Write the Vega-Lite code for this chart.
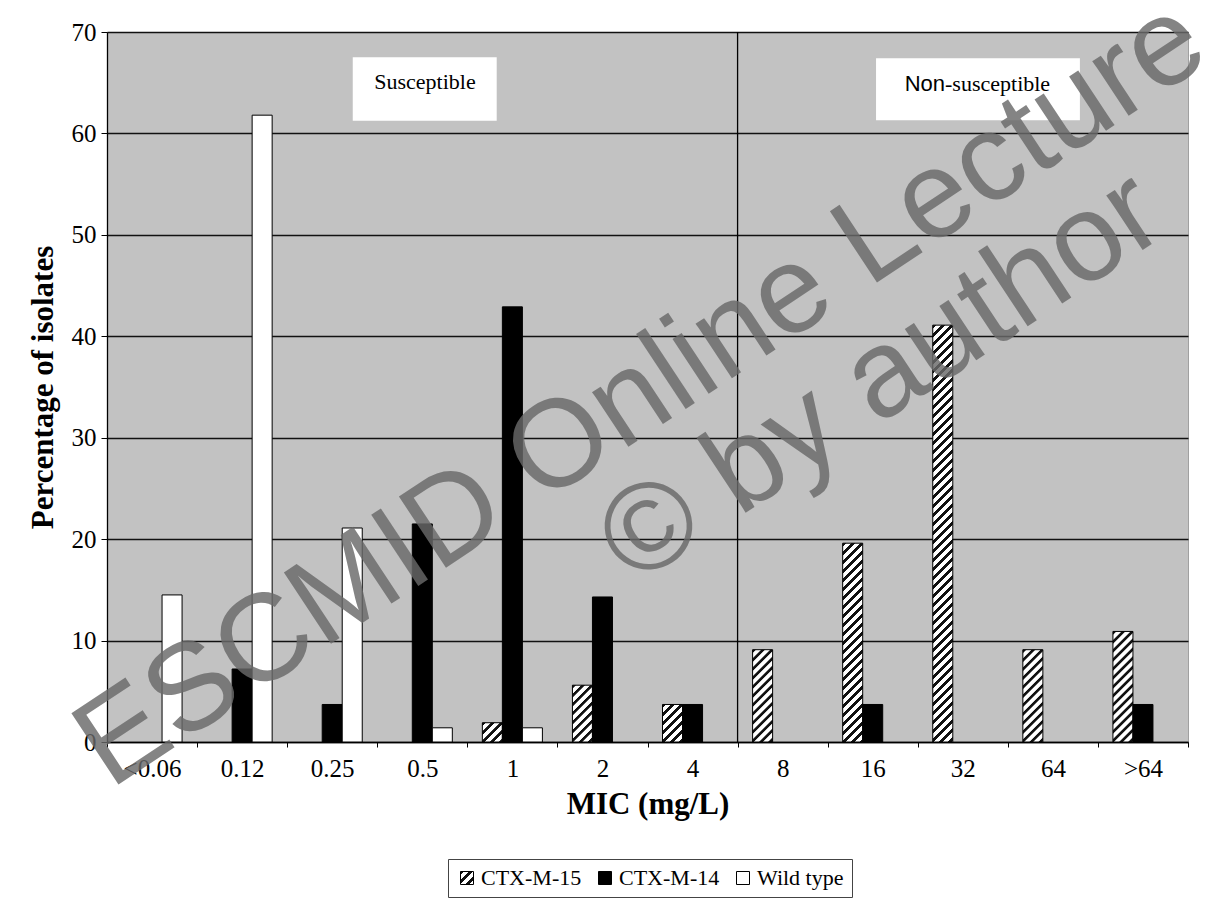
{
  "$schema": "https://vega.github.io/schema/vega-lite/v6.json",
  "width": 1081,
  "height": 710,
  "autosize": "none",
  "padding": {"left": 107, "top": 32, "right": 27, "bottom": 175},
  "background": "white",
  "params": [
    {"name": "hatch", "value": [
      {"offset":0,"color":"#111"},{"offset":0.007,"color":"#111"},{"offset":0.0085,"color":"#fff"},{"offset":0.0185,"color":"#fff"},
      {"offset":0.02,"color":"#111"},{"offset":0.027,"color":"#111"},{"offset":0.0285,"color":"#fff"},{"offset":0.0385,"color":"#fff"},
      {"offset":0.04,"color":"#111"},{"offset":0.047,"color":"#111"},{"offset":0.0485,"color":"#fff"},{"offset":0.0585,"color":"#fff"},
      {"offset":0.06,"color":"#111"},{"offset":0.067,"color":"#111"},{"offset":0.0685,"color":"#fff"},{"offset":0.0785,"color":"#fff"},
      {"offset":0.08,"color":"#111"},{"offset":0.087,"color":"#111"},{"offset":0.0885,"color":"#fff"},{"offset":0.0985,"color":"#fff"},
      {"offset":0.1,"color":"#111"},{"offset":0.107,"color":"#111"},{"offset":0.1085,"color":"#fff"},{"offset":0.1185,"color":"#fff"},
      {"offset":0.12,"color":"#111"},{"offset":0.127,"color":"#111"},{"offset":0.1285,"color":"#fff"},{"offset":0.1385,"color":"#fff"},
      {"offset":0.14,"color":"#111"},{"offset":0.147,"color":"#111"},{"offset":0.1485,"color":"#fff"},{"offset":0.1585,"color":"#fff"},
      {"offset":0.16,"color":"#111"},{"offset":0.167,"color":"#111"},{"offset":0.1685,"color":"#fff"},{"offset":0.1785,"color":"#fff"},
      {"offset":0.18,"color":"#111"},{"offset":0.187,"color":"#111"},{"offset":0.1885,"color":"#fff"},{"offset":0.1985,"color":"#fff"},
      {"offset":0.2,"color":"#111"},{"offset":0.207,"color":"#111"},{"offset":0.2085,"color":"#fff"},{"offset":0.2185,"color":"#fff"},
      {"offset":0.22,"color":"#111"},{"offset":0.227,"color":"#111"},{"offset":0.2285,"color":"#fff"},{"offset":0.2385,"color":"#fff"},
      {"offset":0.24,"color":"#111"},{"offset":0.247,"color":"#111"},{"offset":0.2485,"color":"#fff"},{"offset":0.2585,"color":"#fff"},
      {"offset":0.26,"color":"#111"},{"offset":0.267,"color":"#111"},{"offset":0.2685,"color":"#fff"},{"offset":0.2785,"color":"#fff"},
      {"offset":0.28,"color":"#111"},{"offset":0.287,"color":"#111"},{"offset":0.2885,"color":"#fff"},{"offset":0.2985,"color":"#fff"},
      {"offset":0.3,"color":"#111"},{"offset":0.307,"color":"#111"},{"offset":0.3085,"color":"#fff"},{"offset":0.3185,"color":"#fff"},
      {"offset":0.32,"color":"#111"},{"offset":0.327,"color":"#111"},{"offset":0.3285,"color":"#fff"},{"offset":0.3385,"color":"#fff"},
      {"offset":0.34,"color":"#111"},{"offset":0.347,"color":"#111"},{"offset":0.3485,"color":"#fff"},{"offset":0.3585,"color":"#fff"},
      {"offset":0.36,"color":"#111"},{"offset":0.367,"color":"#111"},{"offset":0.3685,"color":"#fff"},{"offset":0.3785,"color":"#fff"},
      {"offset":0.38,"color":"#111"},{"offset":0.387,"color":"#111"},{"offset":0.3885,"color":"#fff"},{"offset":0.3985,"color":"#fff"},
      {"offset":0.4,"color":"#111"},{"offset":0.407,"color":"#111"},{"offset":0.4085,"color":"#fff"},{"offset":0.4185,"color":"#fff"},
      {"offset":0.42,"color":"#111"},{"offset":0.427,"color":"#111"},{"offset":0.4285,"color":"#fff"},{"offset":0.4385,"color":"#fff"},
      {"offset":0.44,"color":"#111"},{"offset":0.447,"color":"#111"},{"offset":0.4485,"color":"#fff"},{"offset":0.4585,"color":"#fff"},
      {"offset":0.46,"color":"#111"},{"offset":0.467,"color":"#111"},{"offset":0.4685,"color":"#fff"},{"offset":0.4785,"color":"#fff"},
      {"offset":0.48,"color":"#111"},{"offset":0.487,"color":"#111"},{"offset":0.4885,"color":"#fff"},{"offset":0.4985,"color":"#fff"},
      {"offset":0.5,"color":"#111"},{"offset":0.507,"color":"#111"},{"offset":0.5085,"color":"#fff"},{"offset":0.5185,"color":"#fff"},
      {"offset":0.52,"color":"#111"},{"offset":0.527,"color":"#111"},{"offset":0.5285,"color":"#fff"},{"offset":0.5385,"color":"#fff"},
      {"offset":0.54,"color":"#111"},{"offset":0.547,"color":"#111"},{"offset":0.5485,"color":"#fff"},{"offset":0.5585,"color":"#fff"},
      {"offset":0.56,"color":"#111"},{"offset":0.567,"color":"#111"},{"offset":0.5685,"color":"#fff"},{"offset":0.5785,"color":"#fff"},
      {"offset":0.58,"color":"#111"},{"offset":0.587,"color":"#111"},{"offset":0.5885,"color":"#fff"},{"offset":0.5985,"color":"#fff"},
      {"offset":0.6,"color":"#111"},{"offset":0.607,"color":"#111"},{"offset":0.6085,"color":"#fff"},{"offset":0.6185,"color":"#fff"},
      {"offset":0.62,"color":"#111"},{"offset":0.627,"color":"#111"},{"offset":0.6285,"color":"#fff"},{"offset":0.6385,"color":"#fff"},
      {"offset":0.64,"color":"#111"},{"offset":0.647,"color":"#111"},{"offset":0.6485,"color":"#fff"},{"offset":0.6585,"color":"#fff"},
      {"offset":0.66,"color":"#111"},{"offset":0.667,"color":"#111"},{"offset":0.6685,"color":"#fff"},{"offset":0.6785,"color":"#fff"},
      {"offset":0.68,"color":"#111"},{"offset":0.687,"color":"#111"},{"offset":0.6885,"color":"#fff"},{"offset":0.6985,"color":"#fff"},
      {"offset":0.7,"color":"#111"},{"offset":0.707,"color":"#111"},{"offset":0.7085,"color":"#fff"},{"offset":0.7185,"color":"#fff"},
      {"offset":0.72,"color":"#111"},{"offset":0.727,"color":"#111"},{"offset":0.7285,"color":"#fff"},{"offset":0.7385,"color":"#fff"},
      {"offset":0.74,"color":"#111"},{"offset":0.747,"color":"#111"},{"offset":0.7485,"color":"#fff"},{"offset":0.7585,"color":"#fff"},
      {"offset":0.76,"color":"#111"},{"offset":0.767,"color":"#111"},{"offset":0.7685,"color":"#fff"},{"offset":0.7785,"color":"#fff"},
      {"offset":0.78,"color":"#111"},{"offset":0.787,"color":"#111"},{"offset":0.7885,"color":"#fff"},{"offset":0.7985,"color":"#fff"},
      {"offset":0.8,"color":"#111"},{"offset":0.807,"color":"#111"},{"offset":0.8085,"color":"#fff"},{"offset":0.8185,"color":"#fff"},
      {"offset":0.82,"color":"#111"},{"offset":0.827,"color":"#111"},{"offset":0.8285,"color":"#fff"},{"offset":0.8385,"color":"#fff"},
      {"offset":0.84,"color":"#111"},{"offset":0.847,"color":"#111"},{"offset":0.8485,"color":"#fff"},{"offset":0.8585,"color":"#fff"},
      {"offset":0.86,"color":"#111"},{"offset":0.867,"color":"#111"},{"offset":0.8685,"color":"#fff"},{"offset":0.8785,"color":"#fff"},
      {"offset":0.88,"color":"#111"},{"offset":0.887,"color":"#111"},{"offset":0.8885,"color":"#fff"},{"offset":0.8985,"color":"#fff"},
      {"offset":0.9,"color":"#111"},{"offset":0.907,"color":"#111"},{"offset":0.9085,"color":"#fff"},{"offset":0.9185,"color":"#fff"},
      {"offset":0.92,"color":"#111"},{"offset":0.927,"color":"#111"},{"offset":0.9285,"color":"#fff"},{"offset":0.9385,"color":"#fff"},
      {"offset":0.94,"color":"#111"},{"offset":0.947,"color":"#111"},{"offset":0.9485,"color":"#fff"},{"offset":0.9585,"color":"#fff"},
      {"offset":0.96,"color":"#111"},{"offset":0.967,"color":"#111"},{"offset":0.9685,"color":"#fff"},{"offset":0.9785,"color":"#fff"},
      {"offset":0.98,"color":"#111"},{"offset":0.987,"color":"#111"},{"offset":0.9885,"color":"#fff"},{"offset":0.9985,"color":"#fff"}
    ]}
  ],
  "config": {
    "view": {"fill": "#c2c2c2", "stroke": "#a0a0a0", "strokeWidth": 1},
    "font": "Liberation Serif",
    "axis": {"labelFont": "Liberation Serif", "titleFont": "Liberation Serif", "labelColor": "black", "titleColor": "black"}
  },
  "datasets": {
    "bars": [
      {"mic": "<0.06", "series": "Wild type", "pct": 14.5},
      {"mic": "0.12", "series": "CTX-M-14", "pct": 7.2},
      {"mic": "0.12", "series": "Wild type", "pct": 61.8},
      {"mic": "0.25", "series": "CTX-M-14", "pct": 3.7},
      {"mic": "0.25", "series": "Wild type", "pct": 21.1},
      {"mic": "0.5", "series": "CTX-M-14", "pct": 21.5},
      {"mic": "0.5", "series": "Wild type", "pct": 1.4},
      {"mic": "1", "series": "CTX-M-15", "pct": 1.9},
      {"mic": "1", "series": "CTX-M-14", "pct": 42.9},
      {"mic": "1", "series": "Wild type", "pct": 1.4},
      {"mic": "2", "series": "CTX-M-15", "pct": 5.6},
      {"mic": "2", "series": "CTX-M-14", "pct": 14.3},
      {"mic": "4", "series": "CTX-M-15", "pct": 3.7},
      {"mic": "4", "series": "CTX-M-14", "pct": 3.7},
      {"mic": "8", "series": "CTX-M-15", "pct": 9.1},
      {"mic": "16", "series": "CTX-M-15", "pct": 19.6},
      {"mic": "16", "series": "CTX-M-14", "pct": 3.7},
      {"mic": "32", "series": "CTX-M-15", "pct": 41.1},
      {"mic": "64", "series": "CTX-M-15", "pct": 9.1},
      {"mic": ">64", "series": "CTX-M-15", "pct": 10.9},
      {"mic": ">64", "series": "CTX-M-14", "pct": 3.7}
    ],
    "boxes": [
      {"label": "Susceptible", "x1": 2.728, "x2": 4.326, "y1": 61.25, "y2": 67.5},
      {"label": "Non-susceptible", "x1": 8.537, "x2": 10.8, "y1": 61.3, "y2": 67.4}
    ],
    "serifNotes": [
      {"t": "Susceptible", "x": 3.53, "y": 64.4}
    ],
    "nonPart": [{"t": "Non", "x": 9.303, "y": 64.2}],
    "susPart": [{"t": "-susceptible", "x": 9.303, "y": 64.2}],
    "watermark": [
      {"t": "ESCMID Online Lecture Library", "x": 0.033, "y": -4.73},
      {"t": "© by author", "x": 5.85, "y": 15.3}
    ]
  },
  "resolve": {"scale": {"x": "independent", "y": "independent"}},
  "layer": [
    {
      "data": {"name": "bars"},
      "mark": {"type": "bar", "stroke": "black", "strokeWidth": 1},
      "encoding": {
        "x": {
          "field": "mic", "type": "nominal", "sort": null,
          "scale": {"type": "band", "domain": ["<0.06","0.12","0.25","0.5","1","2","4","8","16","32","64",">64"], "paddingInner": 0, "paddingOuter": 0},
          "axis": {"title": "MIC (mg/L)", "labelAngle": 0, "tickBand": "extent", "tickSize": 5, "tickColor": "black", "domainColor": "black", "domainWidth": 1.3, "labelFontSize": 25, "labelPadding": 9, "titleFontSize": 31, "titleFontWeight": "bold", "titlePadding": 8, "grid": false}
        },
        "xOffset": {
          "field": "series", "type": "nominal",
          "scale": {"domain": ["CTX-M-15","CTX-M-14","Wild type"], "paddingInner": 0, "paddingOuter": 0.75}
        },
        "y": {
          "field": "pct", "type": "quantitative", "stack": null,
          "scale": {"domain": [0, 70], "nice": false, "zero": true},
          "axis": {"title": "Percentage of isolates", "values": [0,10,20,30,40,50,60,70], "tickSize": 6, "tickColor": "black", "domainColor": "black", "domainWidth": 1.3, "labelPadding": 5, "labelFontSize": 25, "titleFontSize": 31, "titleFontWeight": "bold", "titlePadding": 12, "grid": true, "gridColor": "#111", "gridWidth": 1.5, "gridOpacity": 1}
        },
        "fill": {
          "field": "series", "type": "nominal",
          "scale": {"domain": ["CTX-M-15","CTX-M-14","Wild type"], "range": [{"expr": "{gradient:'linear', x1:0, y1:0, x2:17.3, y2:17.3, stops: hatch}"}, "#000000", "#ffffff"]},
          "condition": {
            "test": "datum.series === 'CTX-M-15'",
            "value": {"expr": "{gradient:'linear', x1:0, y1:0, x2: 20*450/(400+pow(datum.pct*10.143,2)), y2: datum.pct*10.143*450/(400+pow(datum.pct*10.143,2)), stops: hatch}"}
          },
          "legend": {
            "title": null, "orient": "none", "legendX": 341, "legendY": 827, "direction": "horizontal",
            "strokeColor": "#444", "fillColor": "white", "padding": 8,
            "symbolType": "square", "symbolSize": 169, "symbolStrokeColor": "black", "symbolStrokeWidth": 1, "symbolOpacity": 1,
            "labelFont": "Liberation Serif", "labelFontSize": 22, "labelColor": "black", "labelOffset": 3, "columnPadding": 12, "labelLimit": 0,
            "encode": {"symbols": {"update": {
              "stroke": {"value": "black"},
              "strokeWidth": {"value": 1},
              "opacity": {"value": 1}
            }}}
          }
        }
      }
    },
    {
      "data": {"values": [{"mic": "8"}]},
      "mark": {"type": "rule", "color": "black", "strokeWidth": 1.3},
      "encoding": {
        "x": {
          "field": "mic", "type": "nominal", "bandPosition": 0,
          "scale": {"type": "band", "domain": ["<0.06","0.12","0.25","0.5","1","2","4","8","16","32","64",">64"], "paddingInner": 0, "paddingOuter": 0},
          "axis": null
        }
      }
    },
    {
      "data": {"name": "boxes"},
      "mark": {"type": "rect", "fill": "white"},
      "encoding": {
        "x": {"field": "x1", "type": "quantitative", "scale": {"domain": [0, 12], "nice": false, "zero": false}, "axis": null},
        "x2": {"field": "x2"},
        "y": {"field": "y1", "type": "quantitative", "scale": {"domain": [0, 70], "nice": false, "zero": false}, "axis": null},
        "y2": {"field": "y2"}
      }
    },
    {
      "data": {"name": "serifNotes"},
      "mark": {"type": "text", "font": "Liberation Serif", "fontSize": 22, "color": "black", "align": "center", "baseline": "alphabetic"},
      "encoding": {
        "x": {"field": "x", "type": "quantitative", "scale": {"domain": [0, 12], "nice": false, "zero": false}, "axis": null},
        "y": {"field": "y", "type": "quantitative", "scale": {"domain": [0, 70], "nice": false, "zero": false}, "axis": null},
        "text": {"field": "t"}
      }
    },
    {
      "data": {"name": "nonPart"},
      "mark": {"type": "text", "font": "Liberation Sans", "fontSize": 22, "color": "black", "align": "right", "baseline": "alphabetic"},
      "encoding": {
        "x": {"field": "x", "type": "quantitative", "scale": {"domain": [0, 12], "nice": false, "zero": false}, "axis": null},
        "y": {"field": "y", "type": "quantitative", "scale": {"domain": [0, 70], "nice": false, "zero": false}, "axis": null},
        "text": {"field": "t"}
      }
    },
    {
      "data": {"name": "susPart"},
      "mark": {"type": "text", "font": "Liberation Serif", "fontSize": 22, "color": "black", "align": "left", "baseline": "alphabetic"},
      "encoding": {
        "x": {"field": "x", "type": "quantitative", "scale": {"domain": [0, 12], "nice": false, "zero": false}, "axis": null},
        "y": {"field": "y", "type": "quantitative", "scale": {"domain": [0, 70], "nice": false, "zero": false}, "axis": null},
        "text": {"field": "t"}
      }
    },
    {
      "data": {"name": "watermark"},
      "mark": {"type": "text", "font": "Liberation Sans", "fontSize": 124, "color": "#6a6a6a", "opacity": 0.82, "align": "left", "baseline": "alphabetic", "angle": -33.5},
      "encoding": {
        "x": {"field": "x", "type": "quantitative", "scale": {"domain": [0, 12], "nice": false, "zero": false}, "axis": null},
        "y": {"field": "y", "type": "quantitative", "scale": {"domain": [0, 70], "nice": false, "zero": false}, "axis": null},
        "text": {"field": "t"}
      }
    }
  ]
}
